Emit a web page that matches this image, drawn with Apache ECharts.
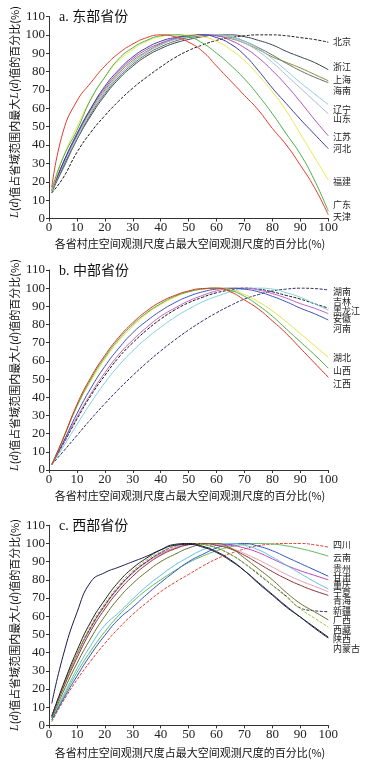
<!DOCTYPE html>
<html><head><meta charset="utf-8">
<script src="https://cdn.jsdelivr.net/npm/echarts@6/dist/echarts.min.js"></script>
<style>html,body{margin:0;padding:0;background:#fff}#c{width:390px;height:762px}</style>
</head><body><div id="c"></div>
<script>
// ---------- DATA ----------
const X = [1,5,10,15,20,25,30,35,40,45,50,55,60,65,70,75,80,85,90,95,100];
const xTickValues = [0,10,20,30,40,50,60,70,80,90,100];
const yTickValues = [0,10,20,30,40,50,60,70,80,90,100,110];

// a. 东部省份
const eastNames = ['北京','浙江','上海','海南','辽宁','山东','江苏','河北','福建','广东','天津'];
const beijing  = [14,22,36,47,56,64,71,77,82.5,87.5,91.5,94.5,97,98.5,99.5,100,100,99.5,98.5,97.5,96];
const zhejiang = [14,28,43,56,67,76,83,88.5,92.5,95.5,97.5,99,100,100,99,97,94.5,91,88,85,81];
const shanghai = [15,30,45,59,70,79,86,91,95,97.5,99,100,99.5,98,95.5,92,88,85,82,78.5,75];
const hainan   = [15,27,43,57,68,77,84,89.5,93.5,96.5,98.5,99.5,100,99,96.5,93,89,84.5,80.5,77,74];
const liaoning = [15,29,44,58,69,78,85,90.5,94.5,97.5,99,100,100,99,96.5,92.5,87,80.5,74,68,62];
const shandong = [15,29,44,58,69,78,85,90.5,94.5,97.5,99,100,100,98.5,95.5,91,85,78,71,64,57];
const jiangsu  = [15,30,46,60,71,80,87,92,95.5,98,99.5,100,99.5,97,93,87.5,80.5,72.5,63.5,54,45];
const hebei    = [15,30,46,60,72,81,88,93,96.5,98.5,99.5,100,98.5,95,89,80.5,71,62.5,54,46,38];
const fujian   = [15,33,50,65,77,86,92,96.5,99,100,100,99,96.5,92,86,78,69,58.5,46,33.5,21];
const guangdong= [16,33,48,65,77,87,93,97,99.5,100,99,95.5,90,83.5,76,67,57,46,35,21,4];
const tianjin  = [17,47,64,74,83,90,95,98.5,100,99,96,91,83,75,67,59,49,40,29,17,2];
const eastValues = [beijing,zhejiang,shanghai,hainan,liaoning,shandong,jiangsu,hebei,fujian,guangdong,tianjin];

// b. 中部省份
const centralNames = ['湖南','吉林','黑龙江','安徽','河南','湖北','山西','江西'];
const hunan   = [3,10,19,28,36.5,44.5,52,59,65.5,71.5,77,82,86.5,90.5,94,96.5,98.5,99.5,100,99.8,99];
const jilin   = [3,14,28,41,52,62,70,77,83,88,92,95,97.5,99,100,99.5,98,96,94,91.5,89];
const heilongjiang = [3,12.5,25,37,48,57.5,65.5,72.5,78.5,84,88.5,92.5,95.5,98,99.5,100,99.5,97.5,95,91.5,88];
const anhui   = [3,14.5,29,42,53.5,63.5,71.5,78.5,84.5,89,93,96,98.5,99.8,100,99,97,94.5,91.5,89,86];
const henan   = [3,15,31,45,57,67,75.5,82,87.5,92,95.5,98,99.5,100,99.5,98,95.5,92.5,89,86,82.5];
const hubei   = [3,17,35,49,61,71,79,86,91,95,98,99.5,100,99.2,96.5,92.5,87.5,81.5,75,68.5,62];
const shanxi  = [3,17,35,50,62,72,80,86.5,91.5,95.5,98,99.5,100,98.8,95.5,90.5,84.5,77.5,70.5,63.5,56];
const jiangxi = [3,17,36,51,63,73,81,87.5,92.5,96,98.5,99.8,100,98,93.5,88.5,82,75,67,59,51];
const centralValues = [hunan,jilin,heilongjiang,anhui,henan,hubei,shanxi,jiangxi];

// c. 西部省份
const westNames = ['四川','云南','贵州','甘肃','重庆','宁夏','青海','新疆','广西','西藏','陕西','内蒙古'];
const sichuan  = [2,13,25,35.5,45,53.5,61,67.5,73.5,78.5,83,87.5,91.5,94.5,97,98.8,99.7,100,100,99.3,98];
const yunnan   = [3,15,29,41,51.5,60.5,68,74.5,80,85,89.5,93,96,98.2,99.5,100,99.7,98.7,97.2,95.3,93];
const guizhou  = [3,14,27,39,49.5,58.5,65,72,78.5,84.5,90,94,97.5,99.5,100,98.5,96,92.5,89,85.5,82];
const gansu    = [5,21,39,54,66,76,84,90,94.5,97.5,99.5,100,99.8,99,97.5,95,91.5,88,85,82.5,80];
const chongqing= [4,16,31,44,55,62,69.5,76.5,82.5,88,92.5,96.5,99,100,99,96.5,92.5,88,83.5,79,75];
const ningxia  = [5,21,38.5,53.5,65.5,75.5,83.5,89.5,94,97.5,99.5,100,99.5,97.5,94.5,91,87,83,79.5,76.5,73.5];
const qinghai  = [5,20,37,52,64,74,82,88.5,93.5,97,99.3,100,99,97,93.5,89,84.5,80.5,77,74,71.5];
const xinjiang = [5,21,39,54,66,76,84,90,95,98.5,100,99.5,97.5,94,89,83,77,71,64.5,63,62.5];
const guangxi  = [4,18,34,48,60,70,78,84.5,90,94,97.5,99.5,100,97.5,92,86,80,73,67,62.5,58];
const xizang   = [5,21,39,55,67,77,85,91,95.5,98.5,100,99.5,97.5,94,89,83.5,77,70.5,64,59,54];
const shaanxi  = [5,22,41,57,69,79,86.5,92,96.5,99.5,100,98.5,95.5,91,85,78,71.5,65,59.5,54,48.5];
const neimenggu= [12,38,62,79,84,87,90,93,96.5,99,99.5,98,95,90.5,85,78.5,72,65.5,59.5,53.5,48];
const westValues = [sichuan,yunnan,guizhou,gansu,chongqing,ningxia,qinghai,xinjiang,guangxi,xizang,shaanxi,neimenggu];

const panelTitles = ['a. 东部省份','b. 中部省份','c. 西部省份'];
const xTitle = '各省村庄空间观测尺度占最大空间观测尺度的百分比(%)';

// ---------- STYLE / LAYOUT ----------
const eastColors = ['#1a1a1a','#34424f','#8a8a3a','#5e6e62','#8ccbe6','#a9bccb','#b050b8','#3a3aa2','#ecea4a','#4cae4c','#e53a2a'];
const eastDash   = [true,false,false,false,false,false,false,false,false,false,false];
const centralColors = ['#2a2a6a','#111111','#7fd0e0','#c060c0','#3a50b8','#e8e040','#48b048','#e03020'];
const centralDash   = [true,true,false,false,false,false,false,false];
const westColors = ['#e03a2a','#5cb85c','#3050c0','#c040c0','#60c0d8','#e0a0b0','#8b3030','#303070','#6b6b2a','#9acd32','#202020','#1a1a50'];
const westDash   = [true,false,false,false,false,false,false,true,false,true,false,false];

const GRIDS = [
  {left:49, width:279.3, top:16.5, height:202},
  {left:49, width:279.3, top:270,  height:200},
  {left:49, width:279.3, top:525.3,height:200}
];
const eastLabelY    = [41.7,66.7,80,90.7,109.3,118.3,136.7,148.3,181.3,205,216.7];
const centralLabelY = [291.7,301.7,310.5,319,329,357.3,370.7,383.3];
const westLabelY    = [545,557.5,569,577.3,585,592.3,601,611,620,629.5,638.8,648.3];
const LABEL_X = 333;

const serif = 'Liberation Serif';
const cjk = 'Noto Sans CJK SC';

const chart = echarts.init(document.getElementById('c'), null, {renderer:'canvas'});

const grid = GRIDS.map(g => ({left:g.left, top:g.top, width:g.width, height:g.height, containLabel:false}));
const axisCommon = {
  axisLine:{show:true, onZero:false, lineStyle:{color:'#333', width:1}},
  axisTick:{show:true, inside:false, length:3, lineStyle:{color:'#333', width:1}},
  splitLine:{show:false}
};
const xAxis = GRIDS.map((g,i) => Object.assign({}, axisCommon, {
  type:'value', gridIndex:i, min:xTickValues[0], max:xTickValues[xTickValues.length-1], interval:xTickValues[1]-xTickValues[0],
  axisLabel:{fontFamily:serif, fontSize:13, color:'#222', margin:3}
}));
const yAxis = GRIDS.map((g,i) => Object.assign({}, axisCommon, {
  type:'value', gridIndex:i, min:yTickValues[0], max:yTickValues[yTickValues.length-1], interval:yTickValues[1]-yTickValues[0],
  axisLabel:{fontFamily:serif, fontSize:13, color:'#222', margin:4}
}));

const series = [];
function addPanel(names, values, colors, dash, idx){
  names.forEach((n,k) => {
    series.push({
      name:n, type:'line', xAxisIndex:idx, yAxisIndex:idx,
      data: X.map((x,j) => [x, values[k][j]]),
      smooth:true, symbol:'none', silent:true,
      lineStyle:{color:colors[k], width:1, type: dash[k] ? [3,1.5] : 'solid'},
      z: 2
    });
  });
}
addPanel(eastNames, eastValues, eastColors, eastDash, 0);
addPanel(centralNames, centralValues, centralColors, centralDash, 1);
addPanel(westNames, westValues, westColors, westDash, 2);

const graphic = [];
function txt(x,y,text,opts){
  graphic.push(Object.assign({type:'text', x:x, y:y, silent:true,
    style:Object.assign({text:text, fill:'#222', align:'left', verticalAlign:'middle',
      textAlign:'left', textVerticalAlign:'middle', fontFamily:cjk, fontSize:9}, opts.style||{})}, opts.el||{}));
}
const titleY = [17.7, 271.7, 526];
const yTitleY = [112, 365, 625];
const xTitleY = [244, 496, 752.5];
panelTitles.forEach((t,i) => {
  txt(59, titleY[i], t, {style:{fontFamily:serif+','+cjk, fontSize:14, fill:'#111'}});
  txt(190, xTitleY[i], xTitle, {style:{fontFamily:cjk, fontSize:11, align:'center', textAlign:'center', fill:'#111'}});
  txt(15, yTitleY[i], '{i|L}({i|d})值占省域范围内最大{i|L}({i|d})值的百分比(%)', {
    style:{fontFamily:cjk, fontSize:11, align:'center', textAlign:'center', fill:'#111',
      rich:{i:{fontStyle:'italic', fontFamily:serif, fontSize:12, fill:'#111'}}},
    el:{rotation:Math.PI/2}
  });
});
eastNames.forEach((n,k) => txt(LABEL_X, eastLabelY[k], n, {}));
centralNames.forEach((n,k) => txt(LABEL_X, centralLabelY[k], n, {}));
westNames.forEach((n,k) => txt(LABEL_X, westLabelY[k], n, {}));

chart.setOption({
  animation:false,
  backgroundColor:'#fff',
  grid, xAxis, yAxis, series, graphic
});
</script>
</body></html>
